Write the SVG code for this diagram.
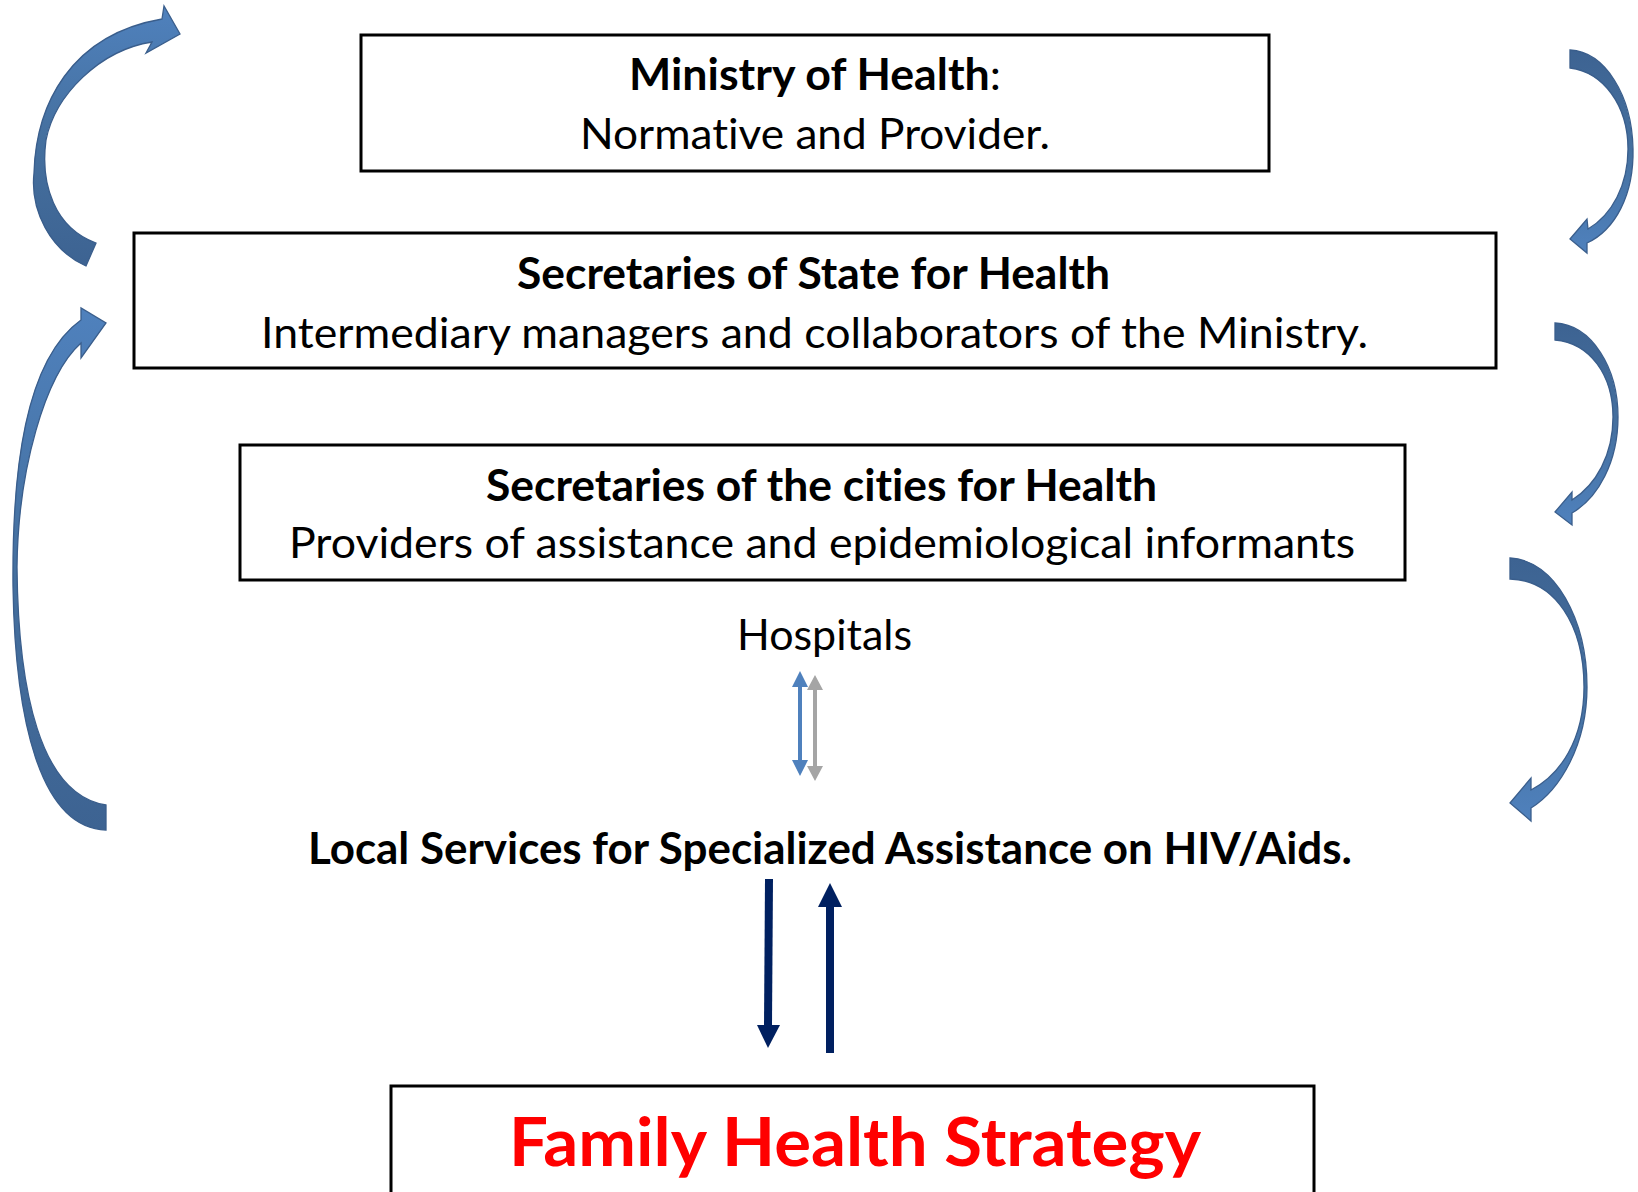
<svg xmlns="http://www.w3.org/2000/svg" width="1638" height="1192" viewBox="0 0 1638 1192">
  <defs>
    <style>
      .box { fill: #ffffff; stroke: #000000; stroke-width: 3; }
      .t { font-family: Lato, "Liberation Sans", Arial, sans-serif; font-size: 43px; fill: #000000; font-variant-ligatures: none; font-feature-settings: "liga" 0, "clig" 0; }
      .b { font-weight: bold; }
      .curve { stroke: #3A5E8C; stroke-width: 1.3; stroke-linejoin: miter; }
    </style>
    <linearGradient id="gUp" x1="0" y1="1" x2="0" y2="0">
      <stop offset="0" stop-color="#3D6392"/>
      <stop offset="0.5" stop-color="#45709F"/>
      <stop offset="1" stop-color="#4F81BD"/>
    </linearGradient>
    <linearGradient id="gDown" x1="0" y1="0" x2="0" y2="1">
      <stop offset="0" stop-color="#3D6392"/>
      <stop offset="0.5" stop-color="#45709F"/>
      <stop offset="1" stop-color="#4F81BD"/>
    </linearGradient>
  </defs>

  <rect width="1638" height="1192" fill="#ffffff"/>

  <g id="ministry">
    <rect class="box" x="361" y="35" width="908" height="136"/>
    <text class="t" x="629" y="90" textLength="372" lengthAdjust="spacingAndGlyphs"><tspan class="b">Ministry of Health</tspan>:</text>
    <text class="t" x="580" y="149" textLength="470" lengthAdjust="spacingAndGlyphs">Normative and Provider.</text>
  </g>

  <g id="state">
    <rect class="box" x="134" y="233" width="1362" height="135"/>
    <text class="t b" x="517" y="289" textLength="593" lengthAdjust="spacingAndGlyphs">Secretaries of State for Health</text>
    <text class="t" x="261" y="348" textLength="1107" lengthAdjust="spacingAndGlyphs">Intermediary managers and collaborators of the Ministry.</text>
  </g>

  <g id="cities">
    <rect class="box" x="240" y="445" width="1165" height="135"/>
    <text class="t b" x="486" y="501" textLength="671" lengthAdjust="spacingAndGlyphs">Secretaries of the cities for Health</text>
    <text class="t" x="289" y="558" textLength="1066" lengthAdjust="spacingAndGlyphs">Providers of assistance and epidemiological informants</text>
  </g>

  <g id="hospitals">
    <text class="t" x="737" y="650" textLength="175" lengthAdjust="spacingAndGlyphs">Hospitals</text>
  </g>

  <g id="local">
    <text class="t b" x="308" y="864" textLength="1044" lengthAdjust="spacingAndGlyphs">Local Services for Specialized Assistance on HIV/Aids.</text>
  </g>

  <g id="family">
    <rect class="box" x="391" y="1086" width="923" height="130"/>
    <text class="t b" x="509" y="1166" style="font-size:66px;fill:#FF0000" textLength="692" lengthAdjust="spacingAndGlyphs">Family Health Strategy</text>
  </g>

  <g id="connectors">
    <path class="curve" fill="url(#gUp)" d="M 86,266 C 50,250 30,210 34,173 C 36,105 70,35 162,19 L 164,6 L 180,34 L 146,53 L 152,42 C 100,50 55,95 46,140 C 40,185 55,228 96,243 Z"/>
    <path class="curve" fill="url(#gUp)" d="M 106,830 C 40,828 15,720 13,586 C 12,470 25,360 81,320 L 81,308 L 106,323 L 81,358 L 81,343 C 45,375 18,470 17,567 C 18,690 40,795 106,805 Z"/>
    <path class="curve" fill="url(#gDown)" d="M 1570,50 C 1605,52 1632,95 1633,149 C 1634,195 1615,230 1587,243 L 1587,253 L 1570,239 L 1587,219 L 1588,229 C 1612,215 1628,185 1628,149 C 1628,105 1603,72 1570,68 Z"/>
    <path class="curve" fill="url(#gDown)" d="M 1555,323 C 1592,325 1618,368 1618,417 C 1618,462 1598,498 1572,513 L 1572,525 L 1555,512 L 1572,492 L 1572,500 C 1596,485 1613,455 1613,417 C 1613,375 1590,343 1555,340 Z"/>
    <path class="curve" fill="url(#gDown)" d="M 1510,558 C 1555,560 1587,620 1587,687 C 1587,745 1560,790 1531,808 L 1531,821 L 1510,803 L 1531,778 L 1531,790 C 1560,775 1584,740 1584,687 C 1584,625 1555,580 1510,579 Z"/>

    <line x1="800" y1="686" x2="800" y2="761" stroke="#4F81BD" stroke-width="4"/>
    <path d="M 792,687 L 800,671 L 808,687 Z M 792,760 L 800,776 L 808,760 Z" fill="#4F81BD"/>
    <line x1="815" y1="689" x2="815" y2="767" stroke="#A5A5A5" stroke-width="4"/>
    <path d="M 807,690 L 815,675 L 823,690 Z M 807,766 L 815,781 L 823,766 Z" fill="#A5A5A5"/>

    <path d="M 769,879 L 768,1026" stroke="#002060" stroke-width="8" fill="none"/>
    <path d="M 757,1025 L 780,1025 L 768,1048 Z" fill="#002060"/>
    <path d="M 830,1053 L 830,906" stroke="#002060" stroke-width="8" fill="none"/>
    <path d="M 818,907 L 842,907 L 830,883 Z" fill="#002060"/>
  </g>
</svg>
